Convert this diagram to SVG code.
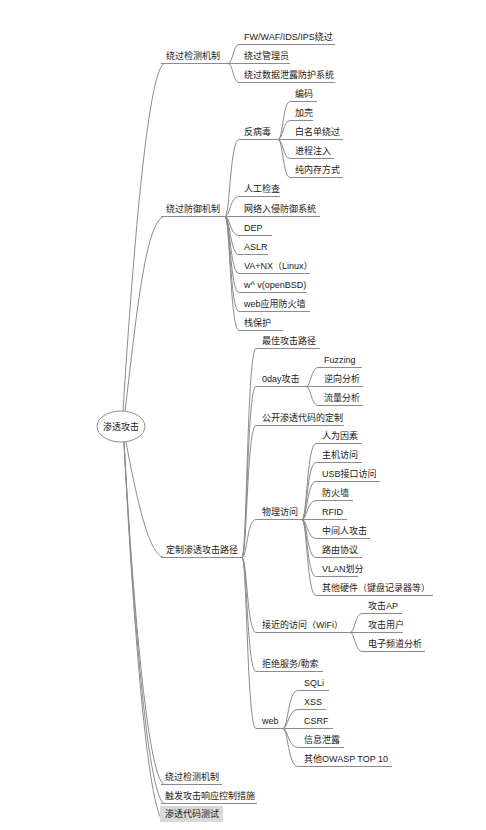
<svg xmlns="http://www.w3.org/2000/svg" width="486" height="830" viewBox="0 0 486 830">
<style>
text{font-family:"Liberation Sans","Noto Sans CJK SC",sans-serif;font-size:9px;fill:#1a1a1a}
.ul{stroke:#8c8c8c;stroke-width:1;fill:none}
#connectors path{stroke:#8c8c8c;stroke-width:1;fill:none}
.root{fill:#fff;stroke:#8c8c8c;stroke-width:1}
.sel{fill:#d9d9d9}
</style>
<rect width="486" height="830" fill="#fff"/>
<g id="connectors">
<path d="M123,411 C134,237 149,63.5 165,63.5"/>
<path d="M125,411 C135,330 145,216.5 165,216.5"/>
<path d="M126,442 C137,500 149,557.5 165,557.5"/>
<path d="M124,442 C134,620 149,784.5 165,784.5"/>
<path d="M124,442 C134,630 149,803.5 165,803.5"/>
<path d="M124,442 C134,640 149,822 165,822"/>
<!-- A1 children -->
<path d="M228,63.5 C233,63.5 233,44.5 239,44.5"/>
<path d="M228,63.5 L239,63.5"/>
<path d="M228,63.5 C233,63.5 233,82.5 239,82.5"/>
<!-- A2 children -->
<path d="M225,216.5 C230,216.5 230,139.5 239,139.5"/>
<path d="M225,216.5 C230,216.5 230,196.5 239,196.5"/>
<path d="M225,216.5 L239,216.5"/>
<path d="M225,216.5 C230,216.5 230,235.5 239,235.5"/>
<path d="M225,216.5 C230,216.5 230,254.5 239,254.5"/>
<path d="M225,216.5 C230,216.5 230,273.5 239,273.5"/>
<path d="M225,216.5 C230,216.5 230,292.5 239,292.5"/>
<path d="M225,216.5 C230,216.5 230,311.5 239,311.5"/>
<path d="M225,216.5 C230,216.5 230,330.5 239,330.5"/>
<!-- antivirus children -->
<path d="M278,139.5 C283,139.5 283,101.5 290,101.5"/>
<path d="M278,139.5 C283,139.5 283,120.5 290,120.5"/>
<path d="M278,139.5 L290,139.5"/>
<path d="M278,139.5 C283,139.5 283,158.5 290,158.5"/>
<path d="M278,139.5 C283,139.5 283,177.5 290,177.5"/>
<!-- A3 children -->
<path d="M242,557.5 C247,557.5 247,348.5 256,348.5"/>
<path d="M242,557.5 C247,557.5 247,386.5 256,386.5"/>
<path d="M242,557.5 C247,557.5 247,425.5 256,425.5"/>
<path d="M242,557.5 C247,557.5 247,519.5 256,519.5"/>
<path d="M242,557.5 C247,557.5 247,632.5 256,632.5"/>
<path d="M242,557.5 C247,557.5 247,671.5 256,671.5"/>
<path d="M242,557.5 C247,557.5 247,728.5 256,728.5"/>
<!-- 0day children -->
<path d="M306,386.5 C311,386.5 311,367.5 318,367.5"/>
<path d="M306,386.5 L318,386.5"/>
<path d="M306,386.5 C311,386.5 311,405.5 318,405.5"/>
<!-- physical children -->
<path d="M302,519.5 C307,519.5 307,443.5 316,443.5"/>
<path d="M302,519.5 C307,519.5 307,462.5 316,462.5"/>
<path d="M302,519.5 C307,519.5 307,481.5 316,481.5"/>
<path d="M302,519.5 C307,519.5 307,500.5 316,500.5"/>
<path d="M302,519.5 L316,519.5"/>
<path d="M302,519.5 C307,519.5 307,538.5 316,538.5"/>
<path d="M302,519.5 C307,519.5 307,557.5 316,557.5"/>
<path d="M302,519.5 C307,519.5 307,576.5 316,576.5"/>
<path d="M302,519.5 C307,519.5 307,595.5 316,595.5"/>
<!-- wifi children -->
<path d="M350,632.5 C355,632.5 355,613.5 362,613.5"/>
<path d="M350,632.5 L362,632.5"/>
<path d="M350,632.5 C355,632.5 355,651.5 362,651.5"/>
<!-- web children -->
<path d="M283,728.5 C288,728.5 288,690.5 298,690.5"/>
<path d="M283,728.5 C288,728.5 288,709.5 298,709.5"/>
<path d="M283,728.5 L298,728.5"/>
<path d="M283,728.5 C288,728.5 288,747.5 298,747.5"/>
<path d="M283,728.5 C288,728.5 288,766.5 298,766.5"/>
</g>
<g id="root"><ellipse class="root" cx="121" cy="426.5" rx="24" ry="15.5"/><text x="121" y="430" text-anchor="middle">渗透攻击</text></g>
<g id="n-a1"><line class="ul" x1="161" y1="63.5" x2="228" y2="63.5"/><text x="166" y="59">绕过检测机制</text></g>
<g id="n-a1-1"><line class="ul" x1="239" y1="44.5" x2="335" y2="44.5"/><text x="244" y="40">FW/WAF/IDS/IPS绕过</text></g>
<g id="n-a1-2"><line class="ul" x1="239" y1="63.5" x2="290" y2="63.5"/><text x="244" y="59">绕过管理员</text></g>
<g id="n-a1-3"><line class="ul" x1="239" y1="82.5" x2="335" y2="82.5"/><text x="244" y="78">绕过数据泄露防护系统</text></g>
<g id="n-a2"><line class="ul" x1="161" y1="216.5" x2="225" y2="216.5"/><text x="166" y="212">绕过防御机制</text></g>
<g id="n-av"><line class="ul" x1="239" y1="139.5" x2="278" y2="139.5"/><text x="244" y="135">反病毒</text></g>
<g id="n-av-1"><line class="ul" x1="290" y1="101.5" x2="317" y2="101.5"/><text x="295" y="97">编码</text></g>
<g id="n-av-2"><line class="ul" x1="290" y1="120.5" x2="313" y2="120.5"/><text x="295" y="116">加壳</text></g>
<g id="n-av-3"><line class="ul" x1="290" y1="139.5" x2="343" y2="139.5"/><text x="295" y="135">白名单绕过</text></g>
<g id="n-av-4"><line class="ul" x1="290" y1="158.5" x2="334" y2="158.5"/><text x="295" y="154">进程注入</text></g>
<g id="n-av-5"><line class="ul" x1="290" y1="177.5" x2="343" y2="177.5"/><text x="295" y="173">纯内存方式</text></g>
<g id="n-a2-2"><line class="ul" x1="239" y1="196.5" x2="280" y2="196.5"/><text x="244" y="192">人工检查</text></g>
<g id="n-a2-3"><line class="ul" x1="239" y1="216.5" x2="320" y2="216.5"/><text x="244" y="212">网络入侵防御系统</text></g>
<g id="n-a2-4"><line class="ul" x1="239" y1="235.5" x2="272" y2="235.5"/><text x="244" y="231">DEP</text></g>
<g id="n-a2-5"><line class="ul" x1="239" y1="254.5" x2="268" y2="254.5"/><text x="244" y="250">ASLR</text></g>
<g id="n-a2-6"><line class="ul" x1="239" y1="273.5" x2="310" y2="273.5"/><text x="244" y="269">VA+NX（Linux）</text></g>
<g id="n-a2-7"><line class="ul" x1="239" y1="292.5" x2="306" y2="292.5"/><text x="244" y="288">w^ v(openBSD)</text></g>
<g id="n-a2-8"><line class="ul" x1="239" y1="311.5" x2="310" y2="311.5"/><text x="244" y="307">web应用防火墙</text></g>
<g id="n-a2-9"><line class="ul" x1="239" y1="330.5" x2="283" y2="330.5"/><text x="244" y="326">栈保护</text></g>
<g id="n-a3"><line class="ul" x1="161" y1="557.5" x2="242" y2="557.5"/><text x="166" y="553">定制渗透攻击路径</text></g>
<g id="n-a3-1"><line class="ul" x1="256" y1="348.5" x2="320" y2="348.5"/><text x="262" y="344">最佳攻击路径</text></g>
<g id="n-0day"><line class="ul" x1="256" y1="386.5" x2="306" y2="386.5"/><text x="262" y="382">0day攻击</text></g>
<g id="n-0day-1"><line class="ul" x1="318" y1="367.5" x2="362" y2="367.5"/><text x="324" y="363">Fuzzing</text></g>
<g id="n-0day-2"><line class="ul" x1="318" y1="386.5" x2="363" y2="386.5"/><text x="324" y="382">逆向分析</text></g>
<g id="n-0day-3"><line class="ul" x1="318" y1="405.5" x2="363" y2="405.5"/><text x="324" y="401">流量分析</text></g>
<g id="n-a3-3"><line class="ul" x1="256" y1="425.5" x2="344" y2="425.5"/><text x="262" y="421">公开渗透代码的定制</text></g>
<g id="n-phy"><line class="ul" x1="256" y1="519.5" x2="302" y2="519.5"/><text x="262" y="515">物理访问</text></g>
<g id="n-phy-1"><line class="ul" x1="316" y1="443.5" x2="362" y2="443.5"/><text x="322" y="439">人为因素</text></g>
<g id="n-phy-2"><line class="ul" x1="316" y1="462.5" x2="362" y2="462.5"/><text x="322" y="458">主机访问</text></g>
<g id="n-phy-3"><line class="ul" x1="316" y1="481.5" x2="380" y2="481.5"/><text x="322" y="477">USB接口访问</text></g>
<g id="n-phy-4"><line class="ul" x1="316" y1="500.5" x2="353" y2="500.5"/><text x="322" y="496">防火墙</text></g>
<g id="n-phy-5"><line class="ul" x1="316" y1="519.5" x2="347" y2="519.5"/><text x="322" y="515">RFID</text></g>
<g id="n-phy-6"><line class="ul" x1="316" y1="538.5" x2="370" y2="538.5"/><text x="322" y="534">中间人攻击</text></g>
<g id="n-phy-7"><line class="ul" x1="316" y1="557.5" x2="362" y2="557.5"/><text x="322" y="553">路由协议</text></g>
<g id="n-phy-8"><line class="ul" x1="316" y1="576.5" x2="358" y2="576.5"/><text x="322" y="572">VLAN划分</text></g>
<g id="n-phy-9"><line class="ul" x1="316" y1="595.5" x2="433" y2="595.5"/><text x="322" y="591">其他硬件（键盘记录器等）</text></g>
<g id="n-wifi"><line class="ul" x1="256" y1="632.5" x2="350" y2="632.5"/><text x="262" y="628">接近的访问（WiFi）</text></g>
<g id="n-wifi-1"><line class="ul" x1="362" y1="613.5" x2="402" y2="613.5"/><text x="368" y="609">攻击AP</text></g>
<g id="n-wifi-2"><line class="ul" x1="362" y1="632.5" x2="403" y2="632.5"/><text x="368" y="628">攻击用户</text></g>
<g id="n-wifi-3"><line class="ul" x1="362" y1="651.5" x2="425" y2="651.5"/><text x="368" y="647">电子频道分析</text></g>
<g id="n-a3-6"><line class="ul" x1="256" y1="671.5" x2="323" y2="671.5"/><text x="262" y="667">拒绝服务/勒索</text></g>
<g id="n-web"><line class="ul" x1="256" y1="728.5" x2="283" y2="728.5"/><text x="262" y="724">web</text></g>
<g id="n-web-1"><line class="ul" x1="298" y1="690.5" x2="329" y2="690.5"/><text x="304" y="686">SQLi</text></g>
<g id="n-web-2"><line class="ul" x1="298" y1="709.5" x2="326" y2="709.5"/><text x="304" y="705">XSS</text></g>
<g id="n-web-3"><line class="ul" x1="298" y1="728.5" x2="333" y2="728.5"/><text x="304" y="724">CSRF</text></g>
<g id="n-web-4"><line class="ul" x1="298" y1="747.5" x2="344" y2="747.5"/><text x="304" y="743">信息泄露</text></g>
<g id="n-web-5"><line class="ul" x1="298" y1="766.5" x2="392" y2="766.5"/><text x="304" y="762">其他OWASP TOP 10</text></g>
<g id="n-a4"><line class="ul" x1="161" y1="784.5" x2="222" y2="784.5"/><text x="165" y="780">绕过检测机制</text></g>
<g id="n-a5"><line class="ul" x1="161" y1="803.5" x2="257" y2="803.5"/><text x="165" y="799">触发攻击响应控制措施</text></g>
<g id="n-a6"><rect class="sel" x="160" y="806" width="63" height="16"/><text x="165" y="817">渗透代码测试</text></g>
</svg>
